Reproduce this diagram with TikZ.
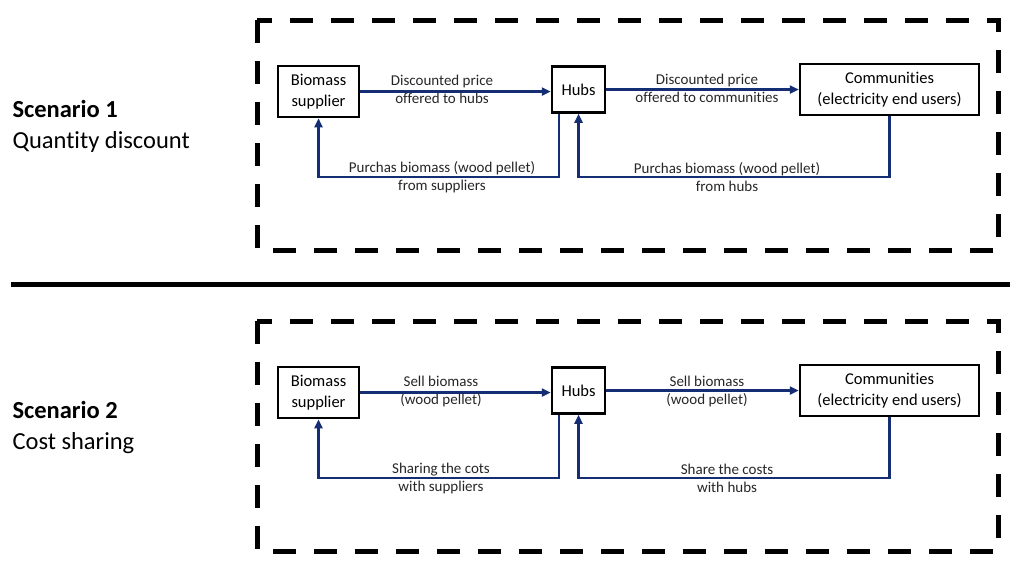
\documentclass[tikz,border=0pt]{standalone}
\usepackage{fontspec}
\setmainfont{Carlito}[Ligatures=NoCommon]
\usetikzlibrary{arrows.meta}
\definecolor{flowblue}{RGB}{20,45,115}

\begin{document}
\begin{tikzpicture}[x=1pt,y=-1pt,
	block/.style={draw,line width=2.5pt,inner sep=0pt,align=center,font=\fontsize{16.5}{21}\selectfont},
	flow/.style={draw=flowblue,line width=2.5pt,-{Triangle[length=9pt,width=8pt]}},
	lbl/.style={align=center,font=\fontsize{15}{18}\selectfont,text=black!85},
	frame/.style={line width=5pt,dash pattern=on 23pt off 18pt},
	scen/.style={anchor=base west,font=\fontsize{24.5}{30}\selectfont}]
	\useasboundingbox (0,0) rectangle (1024,571);
	% scenario 1
	\draw[frame] (257,20) rectangle (998,250);
	\node[scen] (sc1) at (9,117) {\textbf{Scenario 1}};
	\node[scen] (sc1name) at (9,148) {Quantity discount};
	\node[block,minimum width=81pt,minimum height=51pt] (bio1) at (318.5,91.5) {Biomass\\supplier};
	\node[block,minimum width=53pt,minimum height=46pt] (hub1) at (578.5,89.5) {Hubs};
	\node[block,minimum width=179pt,minimum height=51pt] (com1) at (889.5,89.5) {Communities\\(electricity end users)};
	\coordinate (low1) at (0,177);
	\draw[flow] (bio1.east) -- (bio1.east -| hub1.west);
	\draw[flow] (hub1.east) -- (com1.west);
	\draw[flow] ([xshift=-19.5pt]hub1.south) |- (low1 -| bio1.south) -- (bio1.south);
	\draw[flow] (com1.south) |- (low1 -| hub1.south) -- (hub1.south);
	\node[lbl] (price1a) at (442,89.5) {Discounted price\\offered to hubs};
	\node[lbl] (price1b) at (707,88) {Discounted price\\offered to communities};
	\node[lbl] (buy1a) at (442,177) {Purchas biomass (wood pellet)\\from suppliers};
	\node[lbl] (buy1b) at (727,177) {Purchas biomass (wood pellet)\\from hubs};
	% separator
	\draw[line width=5pt] (11,284) -- (1010,284);
	% scenario 2
	\draw[frame] (257,321) rectangle (998,551);
	\node[scen] (sc2) at (9,418) {\textbf{Scenario 2}};
	\node[scen] (sc2name) at (9,449) {Cost sharing};
	\node[block,minimum width=81pt,minimum height=51pt] (bio2) at (318.5,392.5) {Biomass\\supplier};
	\node[block,minimum width=53pt,minimum height=46pt] (hub2) at (578.5,390.5) {Hubs};
	\node[block,minimum width=179pt,minimum height=51pt] (com2) at (889.5,390.5) {Communities\\(electricity end users)};
	\coordinate (low2) at (0,478);
	\draw[flow] (bio2.east) -- (bio2.east -| hub2.west);
	\draw[flow] (hub2.east) -- (com2.west);
	\draw[flow] ([xshift=-19.5pt]hub2.south) |- (low2 -| bio2.south) -- (bio2.south);
	\draw[flow] (com2.south) |- (low2 -| hub2.south) -- (hub2.south);
	\node[lbl] (sell2a) at (441,391) {Sell biomass\\(wood pellet)};
	\node[lbl] (sell2b) at (707,391) {Sell biomass\\(wood pellet)};
	\node[lbl] (cost2a) at (441,478) {Sharing the cots\\with suppliers};
	\node[lbl] (cost2b) at (727,478) {Share the costs\\with hubs};
\end{tikzpicture}
\end{document}
